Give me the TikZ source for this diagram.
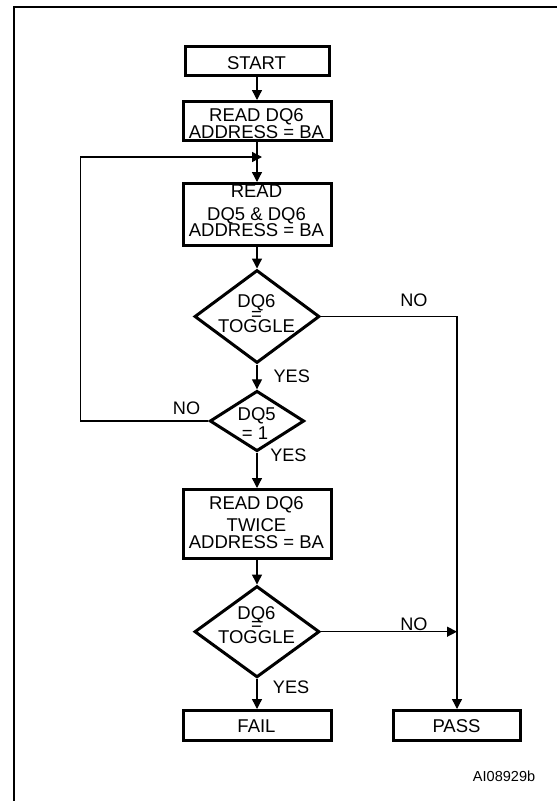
\documentclass[tikz,border=0pt]{standalone}
\usepackage{fontspec}
\setmainfont{Liberation Sans}
\usetikzlibrary{arrows.meta,shapes.geometric}
\begin{document}
\begin{tikzpicture}[x=0.75pt,y=-0.75pt,
  box/.style={draw, line width=2.25pt, rectangle, inner sep=0pt},
  dia/.style={draw, line width=2.25pt, diamond, inner sep=0pt},
  conn/.style={line width=1pt},
  arr/.style={conn, -{Triangle[length=7.5pt,width=7.5pt]}},
  txt/.style={inner sep=0pt, anchor=base, font=\fontsize{13.875pt}{16pt}\selectfont},
  lbl/.style={inner sep=0pt, anchor=base west, font=\fontsize{13.6pt}{16pt}\selectfont},
  code/.style={inner sep=0pt, anchor=base west, font=\fontsize{10.9pt}{13pt}\selectfont}]
\useasboundingbox (0,0) rectangle (557,801);
\clip (0,0) rectangle (557,801);
% frame
\draw[line width=2pt] (14,806) -- (14,7) -- (562,7);
% shapes
\node[box, minimum width=108pt, minimum height=21.75pt] (start) at (257,61) {};
\node[box, minimum width=111pt, minimum height=29.25pt] (rd6) at (257,121) {};
\node[box, minimum width=111pt, minimum height=46.5pt] (rd56) at (257,214.5) {};
\node[dia, minimum width=93.75pt, minimum height=69.75pt] (d1) at (257,316.5) {};
\node[dia, minimum width=70.8pt, minimum height=45.3pt] (d2) at (257,421) {};
\node[box, minimum width=111pt, minimum height=51.75pt] (rdt) at (257,524) {};
\node[dia, minimum width=93.75pt, minimum height=68.5pt] (d3) at (257,631.7) {};
\node[box, minimum width=111pt, minimum height=22.5pt] (fail) at (257,725.5) {};
\node[box, minimum width=95.25pt, minimum height=22.5pt] (pass) at (457,725.5) {};
% texts
\node[txt] (tstart) at (256.5,69.3) {START};
\node[txt] (t2a) at (256.5,121.7) {READ DQ6};
\node[txt] (t2b) at (256.5,138.3) {ADDRESS = BA};
\node[txt] (t3a) at (256.5,197.3) {READ};
\node[txt] (t3b) at (256.5,220) {DQ5 \& DQ6};
\node[txt] (t3c) at (256.5,236.7) {ADDRESS = BA};
\node[txt] (t4a) at (256.5,307.7) {DQ6};
\node[txt] (t4b) at (256.5,320.2) {=};
\node[txt] (t4c) at (256.5,332.7) {TOGGLE};
\node[txt] (t5a) at (256.7,420) {DQ5};
\node[txt] (t5b) at (255,439) {= 1};
\node[txt] (t6a) at (256.5,509.3) {READ DQ6};
\node[txt] (t6b) at (256.5,531) {TWICE};
\node[txt] (t6c) at (256.5,548.3) {ADDRESS = BA};
\node[txt] (t7a) at (256.5,619.3) {DQ6};
\node[txt] (t7b) at (256.5,630.7) {=};
\node[txt] (t7c) at (256.5,643.3) {TOGGLE};
\node[txt] (tfail) at (256.5,732.7) {FAIL};
\node[txt] (tpass) at (456.5,732.7) {PASS};
\node[lbl] (yes1) at (273.3,382.7) {YES};
\node[lbl] (yes2) at (270,461.5) {YES};
\node[lbl] (yes3) at (272.7,693.3) {YES};
\node[lbl] (no1) at (400,306.7) {NO};
\node[lbl] (no2) at (172.7,414) {NO};
\node[lbl] (no3) at (400,630) {NO};
\node[code] (fig) at (472.7,781.7) {AI08929b};
% connectors
\draw[arr] (start.south) -- (rd6.north);
\draw[arr] (rd6.south) -- (rd56.north);
\draw[arr] (rd56.south) -- (d1.north);
\draw[arr] (d1.south) -- (d2.north);
\draw[arr] (d2.south) -- (rdt.north);
\draw[arr] (rdt.south) -- (d3.north);
\draw[arr] (d3.south) -- (fail.north);
\coordinate (lc) at (80.7,157);
\coordinate (loopin) at (262,157);
\draw[arr] (d2.west) -| (lc) -- (loopin);
\draw[arr] (d1.east) -| (pass.north);
\draw[arr] (d3.east) -- (d3.east -| pass.north);
\end{tikzpicture}
\end{document}
